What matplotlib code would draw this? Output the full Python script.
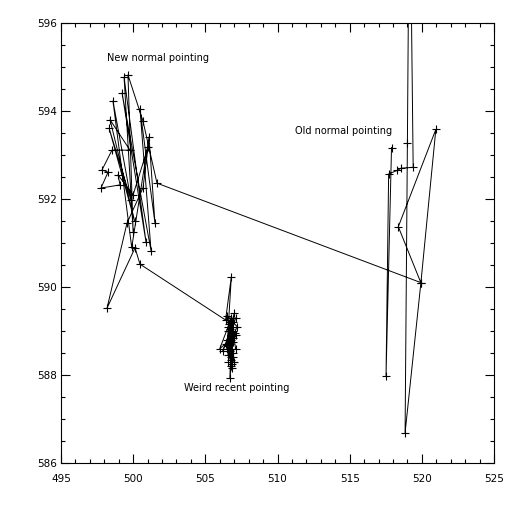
import matplotlib
matplotlib.use("Agg")
import matplotlib.pyplot as plt
from matplotlib.ticker import MultipleLocator

# Old normal pointing
old_x = [517.90, 517.52, 517.70, 518.30, 518.56, 519.40, 519.15, 519.00, 518.84, 519.93, 520.97, 518.37, 519.93]
old_y = [593.17, 587.98, 592.57, 592.65, 592.70, 592.72, 600.00, 593.27, 586.69, 590.08, 593.58, 591.37, 590.10]

# New normal pointing
new_x = [501.65, 500.68, 499.64, 500.00, 499.37, 500.89, 499.23, 501.24, 500.47, 501.51,
         501.10, 499.90, 498.60, 499.85, 498.33, 500.10, 498.40, 499.78, 498.53, 497.84,
         498.26, 497.77, 499.09, 498.95, 499.99, 501.03, 500.68, 499.57, 498.19, 500.13, 500.47]
new_y = [592.36, 593.77, 594.82, 591.25, 594.77, 591.02, 594.41, 590.82, 594.05, 591.45,
         593.41, 590.90, 594.23, 591.98, 593.61, 591.50, 593.80, 593.11, 593.11, 592.66,
         592.61, 592.25, 592.32, 592.55, 592.09, 593.18, 592.25, 591.45, 589.52, 590.89, 590.52]

# Weird recent pointing
weird_x = [506.40, 506.80, 506.50, 507.10, 506.20, 506.90, 506.60, 507.00, 506.50, 506.95,
           506.70, 506.00, 507.10, 506.60, 506.80, 506.70, 507.20, 506.50, 506.90, 506.70,
           506.80, 506.40, 507.00, 506.60, 506.90, 506.55, 507.10, 506.75, 506.85, 506.70,
           506.90, 506.65, 507.05, 506.75, 506.60, 506.95, 506.80, 506.70, 506.85, 506.75]
weird_y = [589.25, 590.23, 588.60, 589.30, 588.55, 589.00, 588.30, 589.40, 588.80, 588.40,
           589.20, 588.60, 588.90, 589.10, 588.20, 588.70, 589.10, 589.35, 588.50, 587.93,
           588.90, 588.70, 588.30, 589.00, 588.75, 588.45, 588.60, 589.30, 588.15, 588.55,
           588.85, 589.15, 588.95, 588.35, 588.65, 589.20, 588.40, 589.05, 588.25, 588.80]

xs = old_x + new_x + weird_x
ys = old_y + new_y + weird_y

labels = ["New normal pointing", "Old normal pointing", "Weird recent pointing"]
label_x = [498.2, 511.2, 503.5]
label_y = [595.2, 593.55, 587.7]

fig = plt.figure(figsize=(5.12, 5.12), dpi=100)
ax = fig.add_axes([61/512, 1-463/512, (494-61)/512, (463-23)/512])
ax.plot(xs, ys, color="black", lw=0.7, marker="+", ms=6, mew=0.8)

for t, lx, ly in zip(labels, label_x, label_y):
    ax.text(lx, ly, t, fontsize=7, color="black", va="center", ha="left")

ax.set_xlim(495, 525)
ax.set_ylim(586, 596)
ax.xaxis.set_major_locator(MultipleLocator(5))
ax.xaxis.set_minor_locator(MultipleLocator(1))
ax.yaxis.set_major_locator(MultipleLocator(2))
ax.yaxis.set_minor_locator(MultipleLocator(0.5))
ax.tick_params(which="both", direction="in", top=True, right=True, labelsize=7.5, width=0.8)
ax.tick_params(which="major", length=6.5)
ax.tick_params(which="minor", length=3)
ax.tick_params(axis="x", pad=8)
ax.tick_params(axis="y", pad=3)
for s in ax.spines.values():
    s.set_linewidth(0.8)

fig.savefig("out.png", dpi=100)
